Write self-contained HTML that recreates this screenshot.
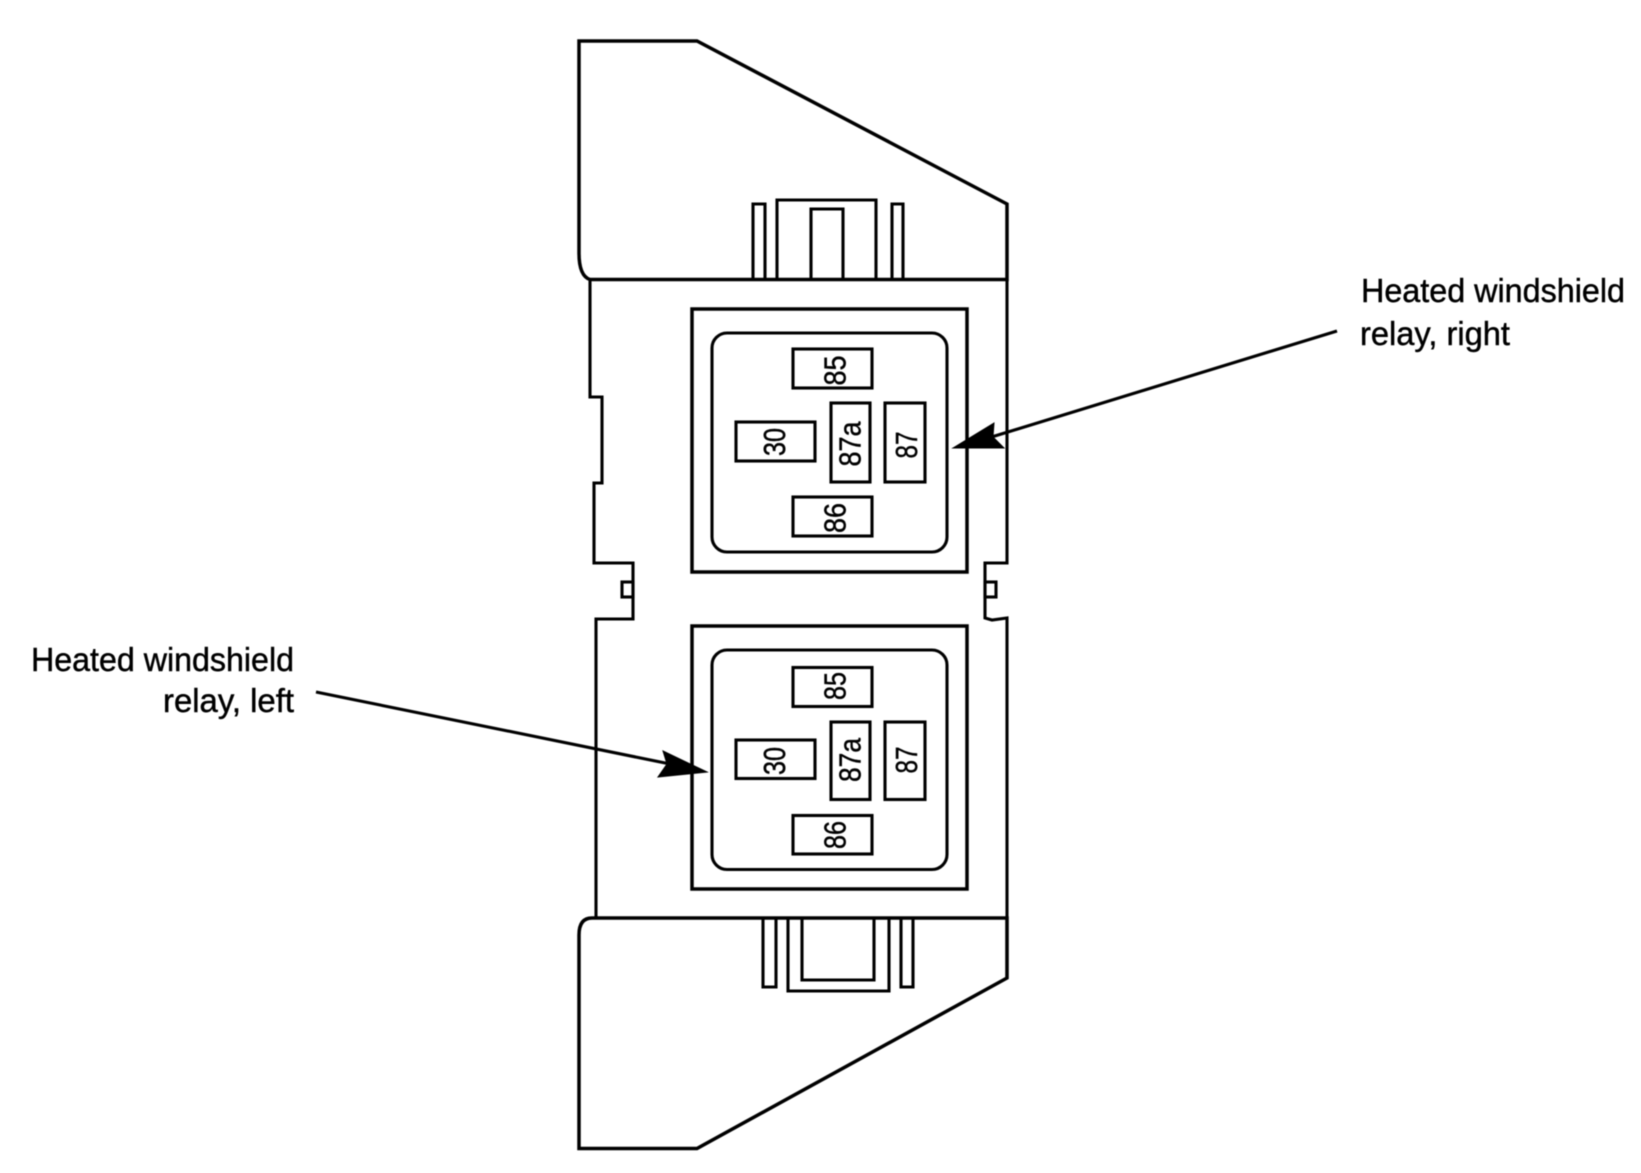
<!DOCTYPE html>
<html><head><meta charset="utf-8"><style>
html,body{margin:0;padding:0;background:#fff}
svg{display:block}
text{font-family:"Liberation Sans",Arial,sans-serif;fill:#000;stroke:#000;stroke-width:.45px}
.p{font-size:31px;text-anchor:middle}
.l{font-size:33.5px}
</style></head><body>
<svg width="1641" height="1173" viewBox="0 0 1641 1173" xmlns="http://www.w3.org/2000/svg">
<defs><filter id="b" filterUnits="userSpaceOnUse" x="0" y="0" width="1641" height="1173"><feGaussianBlur stdDeviation="0.45"/></filter></defs>
<g filter="url(#b)">
<g fill="none" stroke="#000" stroke-width="3.1" stroke-linejoin="miter">
<!-- top cap -->
<path d="M579 41H697L1007 204V279.5H590Q579 276 579 253Z" stroke-width="3.5"/>
<!-- body outline -->
<path d="M590 279V397H602V483H594V563H633V619H596V918"/>
<path d="M1007 279V563H985V618L992 620L1007 618V978"/>
<rect x="622" y="582" width="11" height="15"/>
<rect x="985" y="582" width="11" height="15"/>
<!-- bottom cap -->
<path d="M592 918H1007V978L697 1148.5H579V935Q579 918 592 918Z" stroke-width="3.5"/>
<!-- top connector -->
<path d="M753 279V204H765V279M777 279V200H876V279M811 279V209H843V279M892 279V204H903V279"/>
<!-- bottom connector -->
<path d="M763 918V987H776V918M788 918V991H889V918M802 918V980H874V918M901 918V987H913V918"/>
<!-- relay 1 -->
<rect x="692" y="309" width="275" height="263" stroke-width="3.5"/>
<rect x="712" y="333" width="235" height="219" rx="15"/>
<rect x="793" y="349" width="79" height="39"/>
<rect x="736" y="422" width="79" height="39"/>
<rect x="831" y="403" width="39" height="79"/>
<rect x="885" y="403" width="40" height="79"/>
<rect x="793" y="497" width="79" height="39"/>
<!-- relay 2 -->
<rect x="692" y="626" width="275" height="263" stroke-width="3.5"/>
<rect x="712" y="650" width="235" height="219.500" rx="15"/>
<rect x="793" y="667.500" width="79" height="39"/>
<rect x="736" y="740" width="79" height="38.500"/>
<rect x="831" y="722" width="39" height="77.500"/>
<rect x="885" y="722" width="40" height="77.500"/>
<rect x="793" y="815.500" width="79" height="38.500"/>
<!-- arrows -->
<path d="M1337 331L985 439"/>
<path d="M316 692L680 766"/>
</g>
<path d="M953 448L994 423L993 437L1004 448Z" fill="#000" stroke="#000" stroke-width="1"/>
<path d="M707 772L663 751L667 764L658 777Z" fill="#000" stroke="#000" stroke-width="1"/>
<!-- pin labels -->
<g>
<text class="p" textLength="30" lengthAdjust="spacingAndGlyphs" transform="translate(845.500 370.500) rotate(-90)">85</text>
<text class="p" textLength="28" lengthAdjust="spacingAndGlyphs" transform="translate(785 442) rotate(-90)">30</text>
<text class="p" textLength="45" lengthAdjust="spacingAndGlyphs" transform="translate(860.500 444) rotate(-90)">87a</text>
<text class="p" textLength="27" lengthAdjust="spacingAndGlyphs" transform="translate(917 445) rotate(-90)">87</text>
<text class="p" textLength="30" lengthAdjust="spacingAndGlyphs" transform="translate(845.500 518) rotate(-90)">86</text>
<text class="p" textLength="28" lengthAdjust="spacingAndGlyphs" transform="translate(845.500 686) rotate(-90)">85</text>
<text class="p" textLength="28" lengthAdjust="spacingAndGlyphs" transform="translate(785 761) rotate(-90)">30</text>
<text class="p" textLength="44" lengthAdjust="spacingAndGlyphs" transform="translate(860.500 760) rotate(-90)">87a</text>
<text class="p" textLength="27" lengthAdjust="spacingAndGlyphs" transform="translate(917 760) rotate(-90)">87</text>
<text class="p" textLength="28" lengthAdjust="spacingAndGlyphs" transform="translate(845.500 835) rotate(-90)">86</text>
</g>
<!-- callouts -->
<text class="l" x="1361" y="302" textLength="264" lengthAdjust="spacingAndGlyphs">Heated windshield</text>
<text class="l" x="1360" y="345" textLength="150" lengthAdjust="spacingAndGlyphs">relay, right</text>
<text class="l" x="31" y="671" textLength="263" lengthAdjust="spacingAndGlyphs">Heated windshield</text>
<text class="l" x="163" y="712" textLength="131" lengthAdjust="spacingAndGlyphs">relay, left</text>
</g>
</svg>
</body></html>
